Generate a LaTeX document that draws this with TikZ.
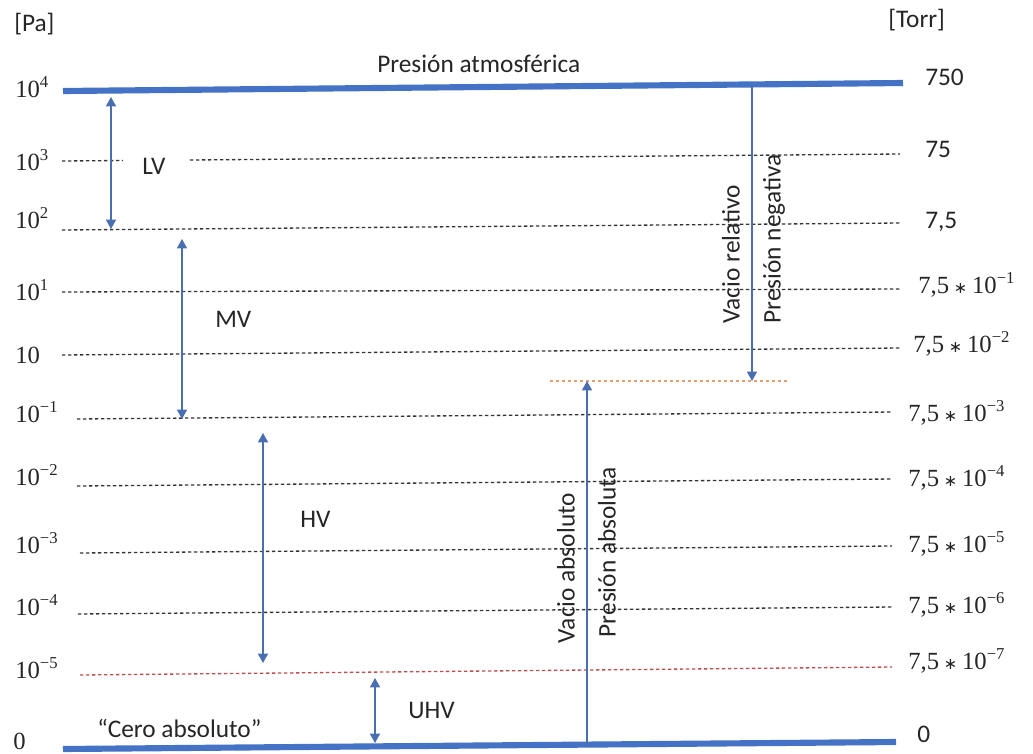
\documentclass[tikz,border=0pt]{standalone}
\usepackage{fontspec}
\setmainfont{Carlito}
\newfontfamily\numfont{Liberation Serif}
\newfontfamily\opfont{DejaVu Sans}
\usetikzlibrary{arrows.meta}
\definecolor{lineblue}{HTML}{4472C4}
\definecolor{arrowblue}{HTML}{4A6FB0}
\definecolor{gridgray}{HTML}{353535}
\definecolor{uhvred}{HTML}{B85050}
\definecolor{limitorange}{HTML}{E6A070}
% exponent and product sign for the numeric scales
\newcommand\upx[1]{\raisebox{7.3pt}{\fontsize{12.5}{12.5}\selectfont#1}}
\newcommand\tms{\hspace{3.6pt}{\opfont\fontsize{12}{12}\selectfont ∗}\hspace{3.6pt}}
\begin{document}
\begin{tikzpicture}[x=0.75pt,y=-0.75pt,
  every node/.style={font=\fontsize{19}{22}\selectfont, inner sep=0pt, text=black!85},
  lbl/.style={anchor=base west},
  num/.style={anchor=base west, font=\numfont\fontsize{18.5}{22}\selectfont},
  vlbl/.style={rotate=90, anchor=center},
  gridline/.style={draw=gridgray, line width=1pt, dash pattern=on 2.6pt off 1.9pt},
  uhvline/.style={gridline, draw=uhvred},
  limitline/.style={gridline, draw=limitorange},
  bound/.style={draw=lineblue, line width=4.6pt},
  tip/.tip={Triangle[length=7pt,width=7.5pt]},
  span/.style={draw=arrowblue, line width=0.9pt, tip-tip},
  oneway/.style={draw=arrowblue, line width=0.9pt, -tip}]

\fill[white] (0,0) rectangle (1033,754);
\useasboundingbox (0,0) rectangle (1033,754);

% limits: atmospheric pressure and absolute zero
\coordinate (atmL) at (63,91);  \coordinate (atmR) at (903,83);
\coordinate (zeroL) at (63,749); \coordinate (zeroR) at (896,742);
\draw[bound] (atmL) -- (atmR);
\draw[bound] (zeroL) -- (zeroR);

% decade lines
\coordinate (g3L) at (62,161);  \coordinate (g3a) at (123,160.5);
\coordinate (g3b) at (190,160); \coordinate (g3R) at (900,154);
\draw[gridline] (g3L) -- (g3a);
\draw[gridline] (g3b) -- (g3R);
\foreach \n/\xl/\yl/\xr/\yr in {g2/62/230/900/223, g1/62/292/900/289, g0/62/355/900/348,
    gm1/77/419/892/412, gm2/77/486/892/479, gm3/80/553/892/546, gm4/78/614/892/607}{
  \coordinate (\n L) at (\xl,\yl);
  \coordinate (\n R) at (\xr,\yr);
  \draw[gridline] (\n L) -- (\n R);
}
\coordinate (gm5L) at (80,675); \coordinate (gm5R) at (892,667);
\draw[uhvline] (gm5L) -- (gm5R);

% reference level for relative vacuum
\coordinate (limL) at (550,381); \coordinate (limR) at (788,381);
\draw[limitline] (limL) -- (limR);

% range arrows
\coordinate (lvT) at (111,97);   \coordinate (lvB) at (111,229);
\coordinate (mvT) at (182,239);  \coordinate (mvB) at (182,419);
\coordinate (hvT) at (263,433);  \coordinate (hvB) at (263,663);
\coordinate (uhvT) at (375,678); \coordinate (uhvB) at (375,743);
\draw[span] (lvT) -- (lvB);
\draw[span] (mvT) -- (mvB);
\draw[span] (hvT) -- (hvB);
\draw[span] (uhvT) -- (uhvB);

% relative and absolute scales
\coordinate (relS) at (752,86);  \coordinate (relE) at (752,381);
\coordinate (absS) at (587,745); \coordinate (absE) at (587,381);
\draw[oneway] (relS) -- (relE);
\draw[oneway] (absS) -- (absE);

% units
\node[lbl] (pa) at (14,31) {[Pa]};
\node[lbl] (torr) at (888,27) {[Torr]};

% pascal scale
\node[num] (p4) at (15,97) {10\upx{4}};
\node[num] (p3) at (15,170) {10\upx{3}};
\node[num] (p2) at (15,228) {10\upx{2}};
\node[num] (p1) at (15,300) {10\upx{1}};
\node[num] (p0) at (15,363) {10};
\node[num] (pm1) at (15,422) {10\upx{−1}};
\node[num] (pm2) at (15,485) {10\upx{−2}};
\node[num] (pm3) at (15,553) {10\upx{−3}};
\node[num] (pm4) at (15,615) {10\upx{−4}};
\node[num] (pm5) at (15,678) {10\upx{−5}};
\node[num] (pz) at (13,749) {0};

% torr scale
\node[lbl] (t4) at (925,85) {750};
\node[lbl] (t3) at (925,157) {75};
\node[lbl] (t2) at (925,228) {7,5};
\node[num] (t1) at (918,293) {7,5\tms10\upx{−1}};
\node[num] (t0) at (913,352) {7,5\tms10\upx{−2}};
\node[num] (tm1) at (908,421) {7,5\tms10\upx{−3}};
\node[num] (tm2) at (908,486) {7,5\tms10\upx{−4}};
\node[num] (tm3) at (908,552) {7,5\tms10\upx{−5}};
\node[num] (tm4) at (908,613) {7,5\tms10\upx{−6}};
\node[num] (tm5) at (908,669) {7,5\tms10\upx{−7}};
\node[lbl] (tz) at (917,742) {0};

% captions
\node[lbl] (atm) at (377,72) {Presión atmosférica};
\node[lbl] (cero) at (97,737) {“Cero absoluto”};
\node[lbl] (lv) at (142,174) {LV};
\node[lbl] (mv) at (215,327) {MV};
\node[lbl] (hv) at (300,527) {HV};
\node[lbl] (uhv) at (408,718) {UHV};

\node[vlbl] (vrel) at (731,254) {Vacio relativo};
\node[vlbl] (pneg) at (774,239) {Presión negativa};
\node[vlbl] (vabs) at (566,568) {Vacio absoluto};
\node[vlbl] (pabs) at (607,552) {Presión absoluta};
\end{tikzpicture}
\end{document}
